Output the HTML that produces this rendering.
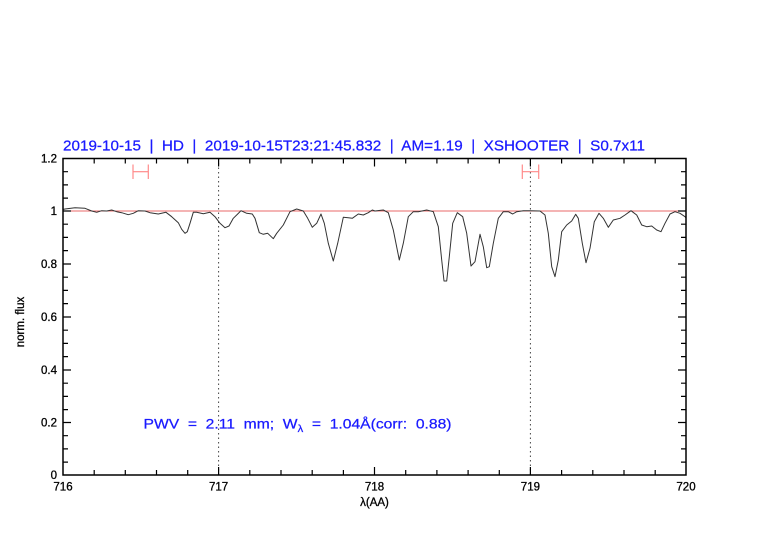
<!DOCTYPE html>
<html><head><meta charset="utf-8"><style>
html,body{margin:0;padding:0;background:#fff;}
svg{display:block;}
text{font-family:"Liberation Sans",sans-serif;white-space:pre;}
</style></head><body>
<svg width="782" height="542" viewBox="0 0 782 542" xmlns="http://www.w3.org/2000/svg" xml:space="preserve">
<rect width="782" height="542" fill="#fff"/>
<!-- title -->
<text x="63" y="150.5" font-size="14.5" fill="#1a1aff" stroke="#1a1aff" stroke-width="0.25" textLength="582" lengthAdjust="spacingAndGlyphs">2019-10-15  |  HD  |  2019-10-15T23:21:45.832  |  AM=1.19  |  XSHOOTER  |  S0.7x11</text>
<!-- dotted verticals -->
<line x1="218.6" y1="158.5" x2="218.6" y2="475" stroke="#444" stroke-width="1" stroke-dasharray="1.5,3"/>
<line x1="530.4" y1="158.5" x2="530.4" y2="475" stroke="#444" stroke-width="1" stroke-dasharray="1.5,3"/>
<!-- line at 1 -->
<line x1="63" y1="211" x2="686" y2="211" stroke="#e86a6a" stroke-width="1"/>
<!-- error bars -->
<g stroke="#ff8a8a" stroke-width="1.2" fill="none">
<line x1="133" y1="171.7" x2="148.3" y2="171.7"/>
<line x1="133" y1="164.5" x2="133" y2="179"/>
<line x1="148.3" y1="164.5" x2="148.3" y2="179"/>
<line x1="522.3" y1="171.7" x2="538.7" y2="171.7"/>
<line x1="522.3" y1="164.5" x2="522.3" y2="179"/>
<line x1="538.7" y1="164.5" x2="538.7" y2="179"/>
</g>
<!-- spectrum -->
<polyline fill="none" stroke="#333" stroke-width="1" stroke-linejoin="round" points="63,209.5 65,209 75,207.7 85,208.3 91.7,211 96.7,212.3 101.7,210.7 106.7,211 111.7,210 116.7,211.7 121.7,212.7 128.3,214.7 133.3,213.3 138.3,210.7 145,211 150,212.7 158.3,214 166,212.3 171.7,216.7 178.3,222.7 181.7,229.3 185,233.3 187.3,231.7 190,223.3 193.3,212.3 196.7,212.3 203.3,213.7 210,212.3 215,216.7 220,223.3 225,227.7 229,226 233.3,218.3 237.7,214 241,210.7 246.7,213.3 252.3,214 255,218.3 259.3,232.7 263.3,234.3 267.7,233.3 273.3,238.7 276.7,233.3 283.3,225 290,211.7 296.7,209 303.3,211 307.7,218.3 312.3,227.3 316.7,223.3 321,214 324.3,223.3 328.3,243.3 333.3,261 337.7,243.3 343.3,217.3 348.3,217.7 352.3,218.3 358.3,214 363.3,215 368.3,212.7 372.3,210 375,211 383.3,210 388.3,212.7 393.3,230 399.3,260 403.3,243.3 408.3,216.7 413.3,211.7 418.3,211.7 426.7,210 433.3,211.7 438.3,226.7 441.7,260 444,281 446.7,281 449.3,256.7 452.7,223.3 457.3,212.7 462.7,216.7 466.7,233.3 471,266 475,261.7 480,234.3 483.3,246.7 486.7,267.7 489.3,266.7 493.3,243.3 498.3,218.3 503.3,211.7 508.3,211.7 512.7,214 516.7,211.7 523.3,210.7 530,210.7 540,211 545,215 548.3,233.3 551.7,266.7 555,276.7 558.3,260 561.7,231.7 566.7,225 571.7,221 575.7,214.3 578.3,218.3 582.3,243.3 586,262.7 590,248.3 594.3,221.7 599,213.3 603.3,218.3 608.3,227.3 613.3,220 620,218.3 625,215 631,210.7 636.7,215 641.7,225 646.7,226.7 651.7,226 656.7,230 661,231.7 665,223.3 670,214 675,211.7 680,213.3 685,216.7 686,218"/>
<!-- axes box -->
<rect x="63" y="158.5" width="623" height="316.5" fill="none" stroke="#000" stroke-width="1.5"/>
<!-- ticks -->
<g stroke="#000" stroke-width="1.2">
<path d="M94.2,475v-5M125.3,475v-5M156.5,475v-5M187.7,475v-5M218.6,475v-8M249.8,475v-5M281,475v-5M312.2,475v-5M343.4,475v-5M374.5,475v-8M405.7,475v-5M436.9,475v-5M468.1,475v-5M499.3,475v-5M530.4,475v-8M561.6,475v-5M592.8,475v-5M624,475v-5M655.2,475v-5"/>
<path d="M94.2,158.5v5M125.3,158.5v5M156.5,158.5v5M187.7,158.5v5M218.6,158.5v8M249.8,158.5v5M281,158.5v5M312.2,158.5v5M343.4,158.5v5M374.5,158.5v8M405.7,158.5v5M436.9,158.5v5M468.1,158.5v5M499.3,158.5v5M530.4,158.5v8M561.6,158.5v5M592.8,158.5v5M624,158.5v5M655.2,158.5v5"/>
<path d="M63,171.7h5M63,184.9h5M63,198.1h5M63,211h8M63,224.2h5M63,237.4h5M63,250.6h5M63,264h8M63,277.2h5M63,290.4h5M63,303.6h5M63,317h8M63,330.2h5M63,343.4h5M63,356.6h5M63,370h8M63,383.2h5M63,396.4h5M63,409.6h5M63,422.5h8M63,435.7h5M63,448.9h5M63,462.1h5"/>
<path d="M686,171.7h-5M686,184.9h-5M686,198.1h-5M686,211h-8M686,224.2h-5M686,237.4h-5M686,250.6h-5M686,264h-8M686,277.2h-5M686,290.4h-5M686,303.6h-5M686,317h-8M686,330.2h-5M686,343.4h-5M686,356.6h-5M686,370h-8M686,383.2h-5M686,396.4h-5M686,409.6h-5M686,422.5h-8M686,435.7h-5M686,448.9h-5M686,462.1h-5"/>
</g>
<!-- y tick labels -->
<g font-size="11.5" fill="#000" stroke="#000" stroke-width="0.3" text-anchor="end">
<text x="57" y="162.5">1.2</text>
<text x="57" y="215">1</text>
<text x="57" y="268">0.8</text>
<text x="57" y="321">0.6</text>
<text x="57" y="374">0.4</text>
<text x="57" y="426.5">0.2</text>
<text x="57" y="479">0</text>
</g>
<!-- x tick labels -->
<g font-size="11.5" fill="#000" stroke="#000" stroke-width="0.3" text-anchor="middle">
<text x="63" y="490.5">716</text>
<text x="218.6" y="490.5">717</text>
<text x="374.5" y="490.5">718</text>
<text x="530.4" y="490.5">719</text>
<text x="686" y="490.5">720</text>
<text x="374.5" y="506">λ(AA)</text>
</g>
<text transform="translate(24,322) rotate(-90)" font-size="11.5" text-anchor="middle" fill="#000" stroke="#000" stroke-width="0.3">norm. flux</text>
<!-- annotation -->
<text x="143.5" y="428.5" font-size="14" fill="#1a1aff" stroke="#1a1aff" stroke-width="0.25" textLength="308" lengthAdjust="spacingAndGlyphs">PWV  =  2.11  mm;  W<tspan font-size="10" dy="3.5">λ</tspan><tspan dy="-3.5">  =  1.04Å(corr:  0.88)</tspan></text>
</svg>
</body></html>
